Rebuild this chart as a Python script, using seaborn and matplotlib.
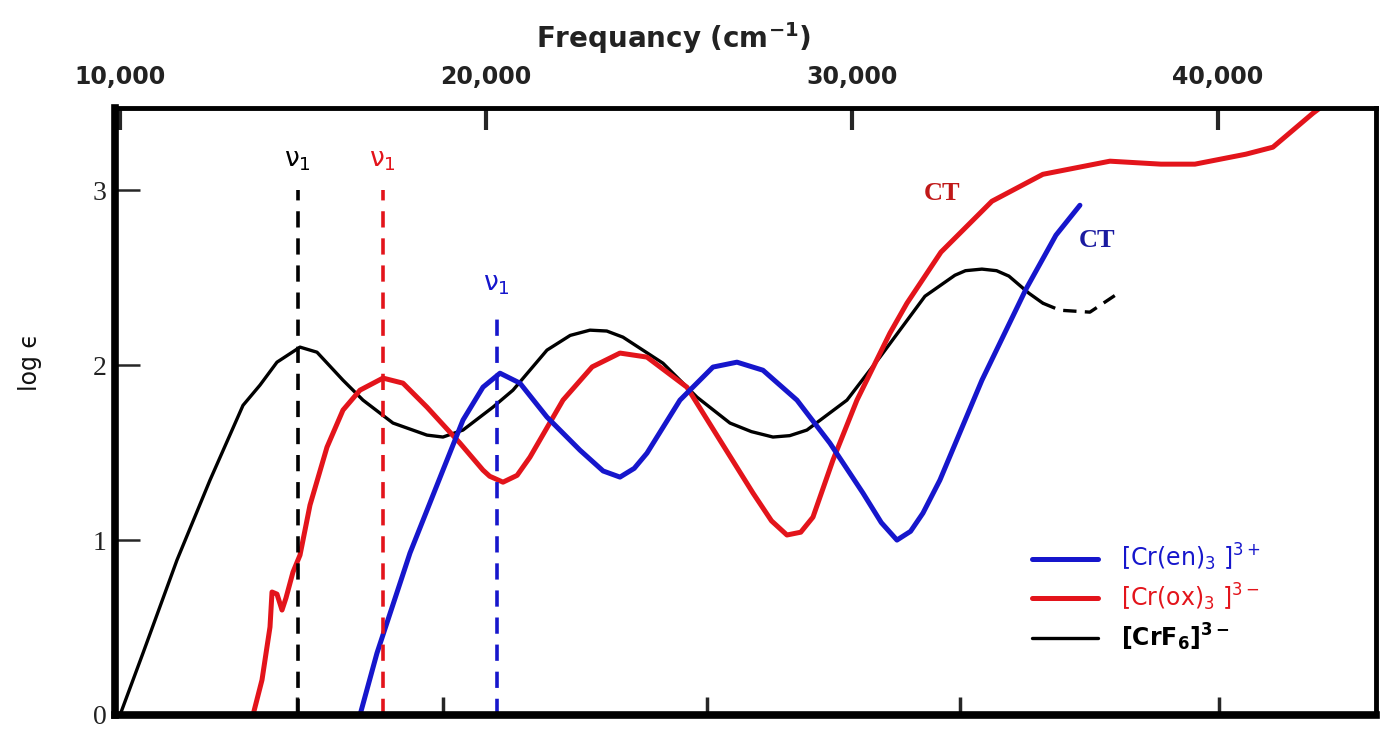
import numpy as np
import pandas as pd
import seaborn as sns
import matplotlib.pyplot as plt
from matplotlib.ticker import FixedLocator

# Absorption spectra (frequency in cm-1, log epsilon)
crf6_freq = [10000, 10628, 11557, 12459, 13360, 13825, 14289, 14918, 15382, 16092,
             16639, 17458, 18387, 18824, 19371, 20190, 20737, 21666, 22300, 22840,
             23300, 23742, 24835, 25764, 26665, 27250, 27840, 28300, 28769, 29862,
             30763, 31993, 32812, 33100, 33550, 33950, 34287, 34834, 35216]
crf6_loge = [0.0, 0.354, 0.886, 1.343, 1.770, 1.886, 2.017, 2.103, 2.074, 1.914,
             1.800, 1.669, 1.600, 1.589, 1.629, 1.760, 1.857, 2.086, 2.170, 2.200,
             2.195, 2.160, 2.011, 1.817, 1.669, 1.620, 1.589, 1.597, 1.629, 1.800,
             2.046, 2.394, 2.514, 2.540, 2.549, 2.540, 2.509, 2.411, 2.354]
# uncertain tail of [CrF6]3- (drawn dashed)
crf6_tail_freq = [35216, 35681, 36500, 37238]
crf6_tail_loge = [2.354, 2.314, 2.303, 2.406]

ox_freq = [13634, 13879, 14098, 14153, 14289, 14426, 14535, 14726, 14918, 15191,
           15655, 16092, 16557, 17185, 17732, 18387, 19289, 19917, 20100, 20464,
           20850, 21201, 22103, 22900, 23660, 24398, 25490, 26392, 27294, 27800,
           28222, 28600, 28933, 29479, 30135, 31036, 31501, 32430, 33823, 35216,
           37047, 38440, 39369, 40762, 41500, 42593, 42784]
ox_loge = [0.0, 0.20, 0.503, 0.703, 0.691, 0.600, 0.669, 0.817, 0.914, 1.20,
           1.531, 1.743, 1.857, 1.926, 1.897, 1.760, 1.554, 1.400, 1.365, 1.331,
           1.370, 1.474, 1.800, 1.990, 2.069, 2.046, 1.874, 1.571, 1.269, 1.110,
           1.029, 1.045, 1.131, 1.457, 1.800, 2.183, 2.354, 2.646, 2.937, 3.091,
           3.166, 3.149, 3.149, 3.206, 3.246, 3.440, 3.470]

en_freq = [16557, 17021, 17923, 18824, 19371, 19917, 20382, 20928, 21666, 22567,
           23200, 23660, 24050, 24398, 25299, 26201, 26857, 27567, 28496, 29397,
           30299, 30800, 31228, 31600, 31938, 32402, 33550, 34752, 35572, 36227]
en_loge = [0.0, 0.354, 0.926, 1.400, 1.686, 1.874, 1.954, 1.897, 1.703, 1.514,
           1.395, 1.360, 1.410, 1.497, 1.800, 1.989, 2.017, 1.971, 1.800, 1.554,
           1.269, 1.100, 1.000, 1.050, 1.154, 1.343, 1.914, 2.434, 2.743, 2.914]

# nu1 band positions and the height of their dashed markers
nu1_freq = [14863, 17185, 20300]
nu1_top = [3.0, 3.0, 2.29]

top_ticks = [10000, 20000, 30000, 40000]
top_labels = ['10,000', '20,000', '30,000', '40,000']
bottom_ticks = [14836, 18824, 26037, 32949, 40024]
y_ticks = [0, 1, 2, 3]

RED = '#e3141b'
BLUE = '#1616cc'
BLACK = '#000000'

sns.set_style('white')
plt.rcParams['mathtext.default'] = 'regular'

fig = plt.figure(figsize=(13.85, 7.29), dpi=100)
ax = fig.add_axes([115 / 1385, 14 / 729, 1261 / 1385, 607 / 729])

sns.lineplot(x=crf6_freq, y=crf6_loge, color=BLACK, lw=2.4, ax=ax,
             label=r'[CrF$_6$]$^{3-}$')
sns.lineplot(x=crf6_tail_freq, y=crf6_tail_loge, color=BLACK, lw=2.4, ax=ax,
             linestyle=(0, (4, 2.5)))
sns.lineplot(x=ox_freq, y=ox_loge, color=RED, lw=3.6, ax=ax,
             label=r'[Cr(ox)$_3$ ]$^{3-}$')
sns.lineplot(x=en_freq, y=en_loge, color=BLUE, lw=3.6, ax=ax,
             label=r'[Cr(en)$_3$ ]$^{3+}$')

for line in ax.get_lines():
    line.set_solid_joinstyle('round')

nu_colors = [BLACK, RED, BLUE]
for f, top, c in zip(nu1_freq, nu1_top, nu_colors):
    ax.vlines(f, 0, top, colors=c, lw=2.6, linestyles=(0, (4.5, 3)))
    ax.text(f, top + 0.1, r'$\nu_1$', color=c, fontsize=19, ha='center',
            va='bottom', math_fontfamily='stix')

ax.text(32457, 2.98, 'CT', color='#c01818', fontsize=19, fontweight='bold',
        family='Liberation Serif', ha='center', va='center')
ax.text(36692, 2.71, 'CT', color='#1a1aa0', fontsize=19, fontweight='bold',
        family='Liberation Serif', ha='center', va='center')

ax.set_xlim(9863, 44317)
ax.set_ylim(0, 3.47)

ax.xaxis.set_major_locator(FixedLocator(top_ticks))
ax.xaxis.set_minor_locator(FixedLocator(bottom_ticks))
ax.set_xticklabels(top_labels, fontsize=17, fontweight='bold', color='#222222')
ax.tick_params(axis='x', which='major', top=True, bottom=False, labeltop=True,
               labelbottom=False, direction='in', length=16, width=3, pad=14)
ax.tick_params(axis='x', which='minor', top=False, bottom=True, direction='in',
               length=13, width=2.5)

ax.set_yticks(y_ticks)
ax.set_yticklabels([str(v) for v in y_ticks], fontsize=20,
                   family='Liberation Serif', color='#222222')
ax.tick_params(axis='y', which='major', left=True, direction='in', length=18,
               width=1.8, pad=6)

for side in ['left', 'bottom']:
    ax.spines[side].set_linewidth(5.5)
for side in ['top', 'right']:
    ax.spines[side].set_linewidth(3.5)
for sp in ax.spines.values():
    sp.set_color('black')

handles, labels = ax.get_legend_handles_labels()
order = [2, 1, 0]
leg = ax.legend([handles[i] for i in order], [labels[i] for i in order],
                loc='upper left', bbox_to_anchor=(0.71, 0.32), frameon=False,
                fontsize=17, handlelength=2.8, handletextpad=1.0,
                labelspacing=0.35, labelcolor='linecolor')
leg.get_texts()[2].set_fontweight('bold')

fig.text(674 / 1385, 1 - 38 / 729, r'Frequancy (cm$^{-1}$)', fontsize=20,
         fontweight='bold', ha='center', va='center', color='#222222')
fig.text(30 / 1385, 1 - 362 / 729, 'log ϵ', fontsize=17, rotation=90,
         ha='center', va='center', color='#111111')

fig.savefig('out.png', dpi=100)
